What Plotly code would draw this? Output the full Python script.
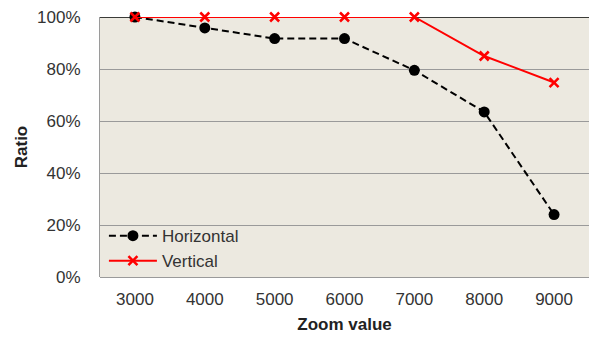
import plotly.graph_objects as go

zoom_values = ["3000", "4000", "5000", "6000", "7000", "8000", "9000"]
horizontal = [100, 95.8, 91.7, 91.7, 79.5, 63.5, 24]
vertical = [100, 100, 100, 100, 100, 85, 74.8]
y_ticks = [0, 20, 40, 60, 80, 100]
y_tick_labels = ["0%", "20%", "40%", "60%", "80%", "100%"]

font = "Liberation Sans, Arial, sans-serif"
text_color = "#333333"

fig = go.Figure()
fig.add_trace(go.Scatter(
    x=zoom_values, y=horizontal, name="Horizontal", mode="lines+markers",
    line=dict(color="black", width=2, dash="7px,4px"),
    marker=dict(symbol="circle", size=11, color="black"),
    cliponaxis=False,
))
fig.add_trace(go.Scatter(
    x=zoom_values, y=vertical, name="Vertical", mode="lines+markers",
    line=dict(color="#ff0000", width=2),
    marker=dict(symbol="x-thin", size=9, line=dict(color="#ff0000", width=2.5)),
    cliponaxis=False,
))

# black border along the top of the plot area
fig.add_shape(type="line", xref="paper", yref="y", x0=0, x1=1, y0=100, y1=100,
              line=dict(color="black", width=1.5), layer="below")

fig.update_layout(
    width=589, height=334,
    margin=dict(l=100, r=0, t=17, b=57),
    paper_bgcolor="white",
    plot_bgcolor="#ECE9E0",
    font=dict(family=font, size=17, color=text_color),
    showlegend=True,
    legend=dict(x=0.008, y=-0.008, xanchor="left", yanchor="bottom",
                bgcolor="rgba(0,0,0,0)", font=dict(size=17, color=text_color),
                tracegroupgap=0, itemwidth=48),
)
fig.update_xaxes(
    type="category", range=[-0.5, 6.5], showgrid=False,
    showline=False, ticks="", tickfont=dict(size=17, color=text_color),
    ticklabelstandoff=10,
    title=dict(text="<b>Zoom value</b>", font=dict(size=17, color="#222222"), standoff=12),
)
fig.update_yaxes(
    range=[0, 100], tickvals=y_ticks, ticktext=y_tick_labels,
    showgrid=True, gridcolor="#9a9a9a", gridwidth=1,
    showline=True, linecolor="#9a9a9a", linewidth=1,
    zeroline=True, zerolinecolor="#9a9a9a", zerolinewidth=1,
    tickfont=dict(size=17, color=text_color), ticks="",
    ticklabelstandoff=15,
    title=dict(text="<b>Ratio</b>", font=dict(size=17, color="#222222"), standoff=5),
)

fig.write_html("out.html")
